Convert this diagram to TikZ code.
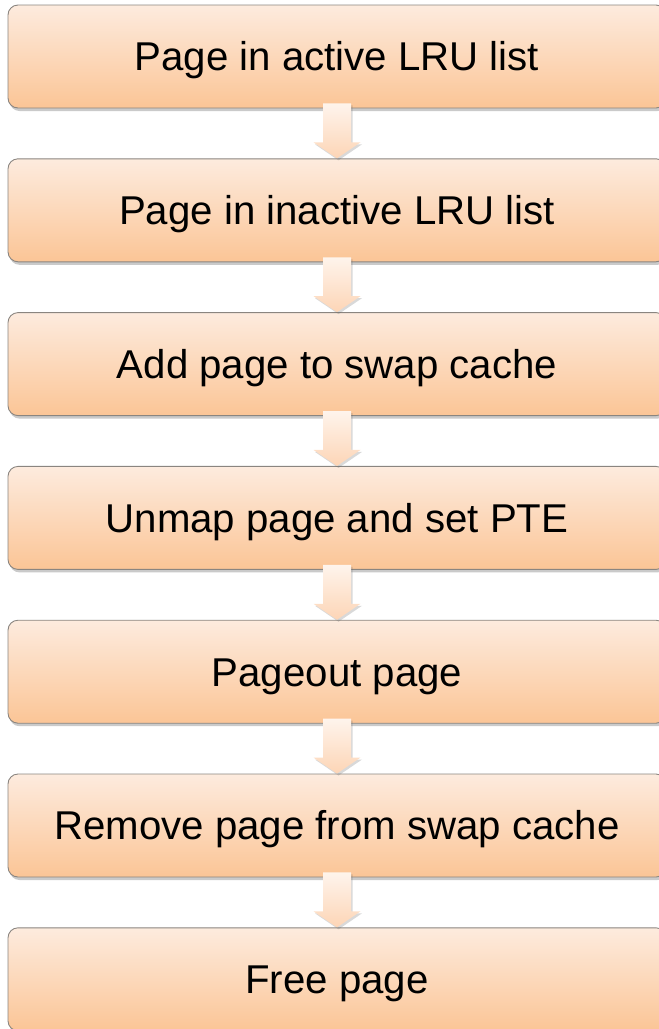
\documentclass[tikz,border=0pt]{standalone}
\usepackage{fontspec}
\setmainfont{Liberation Sans}
\usetikzlibrary{calc,shadows}
\definecolor{boxtop}{HTML}{FDEBDE}
\definecolor{boxbot}{HTML}{FBC596}
\definecolor{boxline}{HTML}{8A8580}
\definecolor{arrtop}{HTML}{FEF4EC}
\definecolor{arrbot}{HTML}{FDD5B6}
\tikzset{
  x=1pt, y=1pt,
  stagebox/.style={rectangle, rounded corners=10pt, minimum width=658pt,
    minimum height=103pt, inner sep=0pt, draw=boxline, line width=0.9pt,
    top color=boxtop, bottom color=boxbot,
    text height=28.8pt, text depth=0pt,
    drop shadow={shadow xshift=1.5pt, shadow yshift=-3pt, opacity=0.35, fill=black!60},
    font=\fontsize{40.2}{48}\selectfont},
  flowarrow/.style={draw=none, top color=arrtop, bottom color=arrbot,
    drop shadow={shadow xshift=1.5pt, shadow yshift=-2pt, opacity=0.25, fill=black!60}}
}
% block arrow from the bottom of one stage to the top of the next
\newcommand{\stagearrow}[2]{%
  \path[flowarrow]
    ($(#1.south)+(-14,5)$) -- ($(#1.south)+(14,5)$) --
    ($(#2.north)+(14,16)$) -- ($(#2.north)+(23.5,16)$) --
    (#2.north) --
    ($(#2.north)+(-23.5,16)$) -- ($(#2.north)+(-14,16)$) -- cycle;}
\begin{document}
\begin{tikzpicture}
\useasboundingbox (0,0) rectangle (659,-1029);
\node[stagebox] (s1) at (337,-56.5) {Page in active LRU list};
\node[stagebox] (s2) at (337,-210.3) {Page in inactive LRU list};
\node[stagebox] (s3) at (337,-364.1) {Add page to swap cache};
\node[stagebox] (s4) at (337,-517.9) {Unmap page and set PTE};
\node[stagebox] (s5) at (337,-671.7) {Pageout page};
\node[stagebox] (s6) at (337,-825.5) {Remove page from swap cache};
\node[stagebox] (s7) at (337,-979.3) {Free page};
\stagearrow{s1}{s2}
\stagearrow{s2}{s3}
\stagearrow{s3}{s4}
\stagearrow{s4}{s5}
\stagearrow{s5}{s6}
\stagearrow{s6}{s7}
\end{tikzpicture}
\end{document}
